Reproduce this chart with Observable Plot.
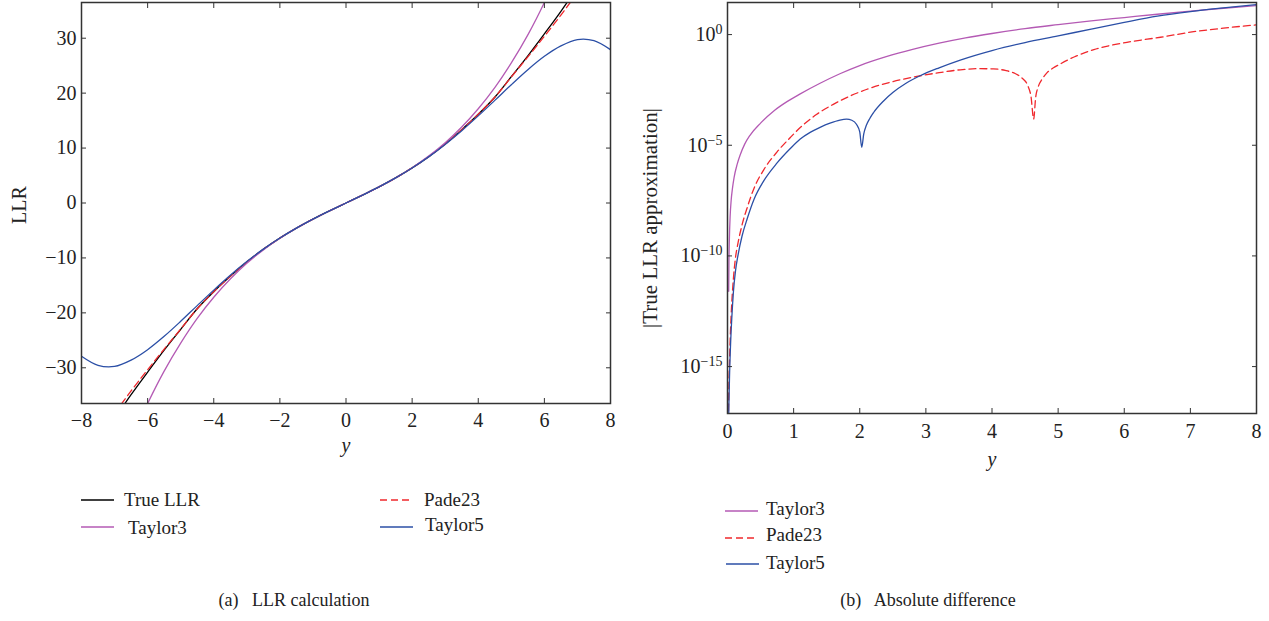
<!DOCTYPE html>
<html><head><meta charset="utf-8">
<script src="https://cdn.jsdelivr.net/npm/d3@7"></script>
<script src="https://cdn.jsdelivr.net/npm/@observablehq/plot@0.6"></script>
<style>
body{margin:0;background:#fff;}
#wrap{position:relative;width:1269px;height:621px;font-family:"Liberation Serif","DejaVu Serif",serif;color:#222;overflow:hidden;background:#fff}
.panel{position:absolute;top:0}
.panel svg{overflow:visible}
.panel svg g[aria-label="x-axis label"] text{font-style:italic}
.lg{position:absolute;font-size:19px;line-height:20px;white-space:nowrap}
.cap{position:absolute;font-size:18px;white-space:nowrap;transform:translateX(-50%)}
</style></head>
<body><div id="wrap"><div id="pa" class="panel" style="left:0"></div><div id="pb" class="panel" style="left:610px"></div></div>
<script>
// ---------- Panel (a): LLR calculation ----------
const yA = [-8,-7.5,-7,-6.5,-6,-5.5,-5,-4.5,-4,-3.5,-3,-2.5,-2,-1.5,-1,-0.5,0,0.5,1,1.5,2,2.5,3,3.5,4,4.5,5,5.5,6,6.5,7,7.5,8];
const trueLLR = [-49,-44,-39.3,-34.9,-30.8,-26.8,-23.0,-19.25,-16.15,-13.35,-10.75,-8.43,-6.39,-4.57,-2.94,-1.44,0,1.44,2.94,4.57,6.39,8.43,10.75,13.35,16.15,19.25,23.0,26.8,30.8,34.9,39.3,44,49];
const taylor3A = [-69,-59.3,-50.7,-43.2,-36.5,-30.6,-25.5,-21.0,-17.15,-13.83,-10.97,-8.53,-6.42,-4.58,-2.94,-1.44,0,1.44,2.94,4.58,6.42,8.53,10.97,13.83,17.15,21.0,25.5,30.6,36.5,43.2,50.7,59.3,69];
const pade23A = [-46.3,-42.4,-38.3,-34.2,-30.35,-26.6,-22.95,-19.25,-16.15,-13.35,-10.75,-8.43,-6.39,-4.57,-2.94,-1.44,0,1.44,2.94,4.57,6.39,8.43,10.75,13.35,16.15,19.25,22.95,26.6,30.35,34.2,38.3,42.4,46.3];
const taylor5A = [-27.9,-29.55,-29.75,-28.6,-26.7,-24.27,-21.54,-18.68,-15.86,-13.16,-10.67,-8.40,-6.38,-4.57,-2.94,-1.44,0,1.44,2.94,4.57,6.38,8.40,10.67,13.16,15.86,18.68,21.54,24.27,26.7,28.6,29.75,29.55,27.9];
const xTicksA = [-8,-6,-4,-2,0,2,4,6,8];
const yTicksA = [-30,-20,-10,0,10,20,30];

// ---------- Panel (b): absolute difference (log10 of |error|) ----------
const t3X = [0.018,0.022,0.028,0.04,0.055,0.075,0.1,0.147,0.19,0.26,0.34,0.5,0.7,0.9,1.1,1.4,1.7,2.0,2.4,2.8,3.2,3.6,4.0,4.5,5.0,5.5,6.0,6.5,7.0,7.5,8.0];
const t3Exp = [-11.6,-10.3,-9.3,-8.2,-7.5,-6.95,-6.45,-5.85,-5.45,-4.95,-4.55,-4.0,-3.45,-3.03,-2.68,-2.2,-1.77,-1.4,-1.0,-0.67,-0.39,-0.15,0.05,0.27,0.45,0.62,0.77,0.92,1.06,1.19,1.31];
const p23X = [0.01,0.02,0.03,0.045,0.065,0.09,0.12,0.16,0.22,0.3,0.4,0.55,0.75,0.95,1.1,1.35,1.6,1.85,2.11,2.4,2.7,2.92,3.2,3.52,3.8,4.02,4.2,4.35,4.45,4.54,4.59,4.63,4.66,4.70,4.76,4.83,4.93,5.03,5.25,5.54,6.04,6.55,7.05,7.5,8.0];
const p23Exp = [-18.5,-16.1,-14.8,-13.4,-12.1,-11.0,-10.1,-9.4,-8.6,-7.8,-6.95,-6.1,-5.3,-4.65,-4.2,-3.6,-3.15,-2.78,-2.47,-2.2,-1.99,-1.86,-1.72,-1.59,-1.54,-1.55,-1.62,-1.76,-1.95,-2.3,-2.8,-3.81,-2.85,-2.35,-2.0,-1.73,-1.5,-1.33,-1.0,-0.68,-0.35,-0.12,0.13,0.29,0.44];
const t5X = [0.01,0.02,0.03,0.045,0.065,0.09,0.12,0.16,0.22,0.3,0.4,0.55,0.75,0.95,1.1,1.25,1.4,1.55,1.7,1.8,1.88,1.95,2.0,2.03,2.06,2.1,2.15,2.21,2.36,2.5,2.7,2.92,3.2,3.52,4.0,4.5,5.0,5.5,6.0,6.5,7.0,7.5,8.0];
const t5Exp = [-19,-16.9,-15.5,-14.1,-12.8,-11.6,-10.7,-9.95,-9.1,-8.3,-7.45,-6.6,-5.8,-5.15,-4.72,-4.42,-4.19,-4.0,-3.86,-3.82,-3.87,-4.05,-4.4,-5.09,-4.5,-4.1,-3.8,-3.52,-3.0,-2.62,-2.2,-1.85,-1.5,-1.15,-0.72,-0.36,-0.06,0.25,0.55,0.83,1.04,1.21,1.36];
const xTicksB = [0,1,2,3,4,5,6,7,8];
const yTicksB = [1,1e-5,1e-10,1e-15];

const C = {true:"#000000", t3:"#b45ab4", p23:"#f0282d", t5:"#2b4fa6"};
const FONT = '"Liberation Serif","DejaVu Serif",serif';

const rowsA = (vals) => yA.map((x,i)=>({x, v: vals[i]}));
const rowsB = (xs, es) => xs.map((x,i)=>({x, v: Math.pow(10, es[i])}));

function inwardTicks(xt, yt) {
  return [
    Plot.axisX(xt, {anchor:"bottom", tickSize:5, dy:-5, tickFormat:()=>"", label:null, stroke:"#333"}),
    Plot.axisX(xt, {anchor:"top", tickSize:5, dy:5, tickFormat:()=>"", label:null, stroke:"#333"}),
    Plot.axisY(yt, {anchor:"left", tickSize:5, dx:5, tickFormat:()=>"", label:null, stroke:"#333"}),
    Plot.axisY(yt, {anchor:"right", tickSize:5, dx:-5, tickFormat:()=>"", label:null, stroke:"#333"})
  ];
}

const plotA = Plot.plot({
  width:640, height:470,
  marginLeft:81, marginRight:30, marginTop:2, marginBottom:67,
  style:{fontFamily:FONT, fontSize:"20px", color:"#222", background:"transparent"},
  x:{domain:[-8,8]},
  y:{domain:[-36.5,36.5]},
  marks:[
    Plot.line(rowsA(trueLLR), {x:"x", y:"v", curve:"catmull-rom", clip:true, strokeWidth:1.3, stroke:C.true}),
    Plot.line(rowsA(pade23A), {x:"x", y:"v", curve:"catmull-rom", clip:true, strokeWidth:1.3, stroke:C.p23, strokeDasharray:"7,4"}),
    Plot.line(rowsA(taylor3A), {x:"x", y:"v", curve:"catmull-rom", clip:true, strokeWidth:1.3, stroke:C.t3}),
    Plot.line(rowsA(taylor5A), {x:"x", y:"v", curve:"catmull-rom", clip:true, strokeWidth:1.3, stroke:C.t5}),
    Plot.frame({stroke:"#333", strokeWidth:1.5}),
    ...inwardTicks(xTicksA, yTicksA),
    Plot.axisX(xTicksA, {anchor:"bottom", tickSize:0, tickPadding:9, label:"y", labelAnchor:"center", labelOffset:48, labelArrow:"none"}),
    Plot.axisY(yTicksA, {anchor:"left", tickSize:0, tickPadding:5, label:null}),
    Plot.text(["LLR"], {text:d=>d, frameAnchor:"left", textAnchor:"middle", lineAnchor:"middle", rotate:-90, dx:-62, dy:2, fontSize:20, fill:"#222"})
  ]
});
document.getElementById("pa").appendChild(plotA);

const expFmt = d => "10^" + Math.round(Math.log10(d));
const plotB = Plot.plot({
  width:659, height:480,
  marginLeft:117, marginRight:13, marginTop:2, marginBottom:67,
  style:{fontFamily:FONT, fontSize:"20px", color:"#222", background:"transparent"},
  x:{domain:[0,8]},
  y:{type:"log", domain:[Math.pow(10,-17.12), Math.pow(10,1.45)]},
  marks:[
    Plot.line(rowsB(t3X, t3Exp), {x:"x", y:"v", curve:"monotone-x", clip:true, strokeWidth:1.3, stroke:C.t3}),
    Plot.line(rowsB(p23X, p23Exp), {x:"x", y:"v", curve:"monotone-x", clip:true, strokeWidth:1.3, stroke:C.p23, strokeDasharray:"7,4"}),
    Plot.line(rowsB(t5X, t5Exp), {x:"x", y:"v", curve:"monotone-x", clip:true, strokeWidth:1.3, stroke:C.t5}),
    Plot.frame({stroke:"#333", strokeWidth:1.5}),
    ...inwardTicks(xTicksB, yTicksB),
    Plot.axisX(xTicksB, {anchor:"bottom", tickSize:0, tickPadding:10, label:"y", labelAnchor:"center", labelOffset:52, labelArrow:"none"}),
    Plot.axisY(yTicksB, {anchor:"left", tickSize:0, tickPadding:5, tickFormat:expFmt, label:null}),
    Plot.text(["|True LLR approximation|"], {text:d=>d, frameAnchor:"left", textAnchor:"middle", lineAnchor:"middle", rotate:-90, dx:-77, dy:10, fontSize:21, fill:"#222"})
  ]
});
document.getElementById("pb").appendChild(plotB);

// superscript exponents on the log axis
const NS = "http://www.w3.org/2000/svg";
plotB.querySelectorAll('g[aria-label="y-axis tick label"] text').forEach(t => {
  const s = t.textContent;
  if (!s.includes("^")) return;
  const [b, e] = s.split("^");
  t.textContent = b;
  const ts = document.createElementNS(NS, "tspan");
  ts.setAttribute("dy", "-0.5em");
  ts.setAttribute("font-size", "14px");
  ts.textContent = e.replace("-", "\u2212");
  t.appendChild(ts);
});

// ---------- Legends and captions ----------
const legendA = [
  {label:"True LLR", color:C.true, dash:null, sx:81, sy:500, tx:124, ty:490},
  {label:"Taylor3", color:C.t3, dash:null, sx:81, sy:527, tx:128, ty:518},
  {label:"Pade23", color:C.p23, dash:"7,4", sx:380, sy:500, tx:424, ty:490},
  {label:"Taylor5", color:C.t5, dash:null, sx:380, sy:527, tx:425, ty:515}
];
const legendB = [
  {label:"Taylor3", color:C.t3, dash:null, sx:725, sy:511, tx:766, ty:499},
  {label:"Pade23", color:C.p23, dash:"7,4", sx:725, sy:538, tx:766, ty:525},
  {label:"Taylor5", color:C.t5, dash:null, sx:726, sy:564, tx:766, ty:553}
];
const wrap = document.getElementById("wrap");
for (const it of [...legendA, ...legendB]) {
  const sw = document.createElementNS(NS, "svg");
  sw.setAttribute("width", 34); sw.setAttribute("height", 4);
  sw.setAttribute("style", `position:absolute;left:${it.sx}px;top:${it.sy-2}px`);
  const ln = document.createElementNS(NS, "line");
  ln.setAttribute("x1", 0); ln.setAttribute("x2", 33); ln.setAttribute("y1", 2); ln.setAttribute("y2", 2);
  ln.setAttribute("stroke", it.color); ln.setAttribute("stroke-width", 1.6);
  if (it.dash) ln.setAttribute("stroke-dasharray", it.dash);
  sw.appendChild(ln); wrap.appendChild(sw);
  const d = document.createElement("div");
  d.className = "lg"; d.textContent = it.label;
  d.style.left = it.tx + "px"; d.style.top = it.ty + "px";
  wrap.appendChild(d);
}
const captions = [{text:"(a)\u2002 LLR calculation", cx:294, top:590}, {text:"(b)\u2002 Absolute difference", cx:928, top:590}];
for (const c of captions) {
  const d = document.createElement("div");
  d.className = "cap"; d.textContent = c.text;
  d.style.left = c.cx + "px"; d.style.top = c.top + "px";
  wrap.appendChild(d);
}
</script></body></html>
